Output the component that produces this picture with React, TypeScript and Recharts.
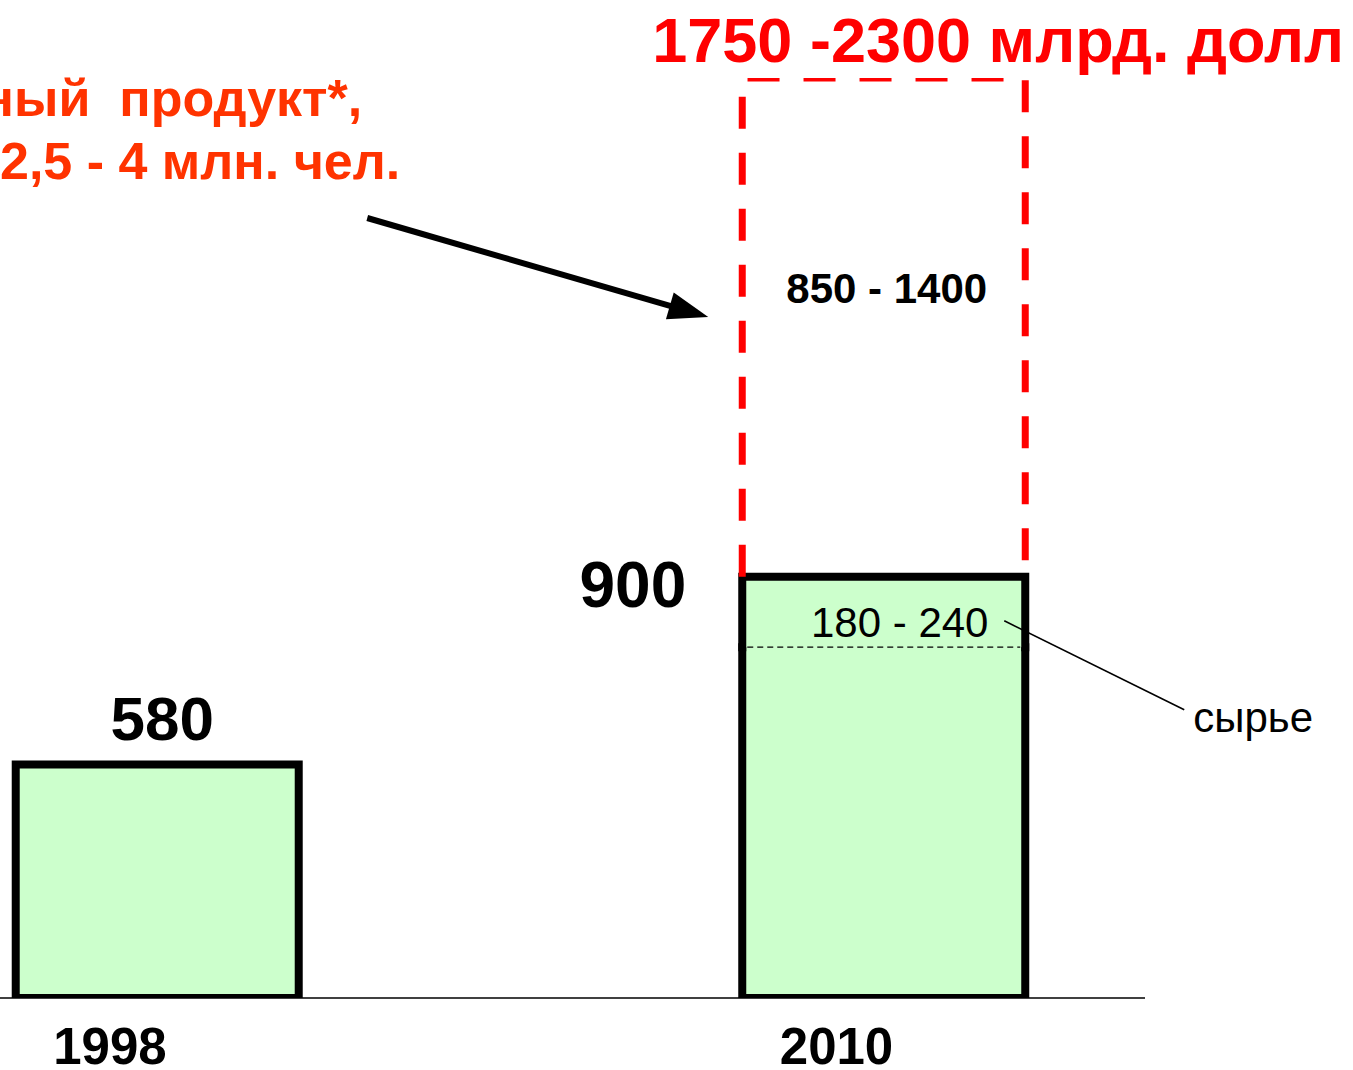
import React from 'react';
import { ComposedChart, Bar, XAxis, YAxis, LabelList } from 'recharts';

const years = [1998, 2010];
// the 2010 bar is split by the thin dashed line: lower part + raw-material part
const lowerPart = [580, 780];
const rawPart = [0, 120];
const forecastPart = [0, 850];
const totalLabels = ['580', '900'];
const rawLabels = ['', '180 - 240'];
const forecastLabels = ['', '850 - 1400'];
const forecastTotals = ['', '1750 -2300 млрд. долл'];
const rawName = 'сырье';
const noteLines = ['ный  продукт*,', '2,5 - 4 млн. чел.'];

const data = years.map((year, i) => ({
  year,
  lower: lowerPart[i],
  raw: rawPart[i],
  forecast: forecastPart[i],
}));

const FONT = '"Liberation Sans", Arial, sans-serif';
const GREEN = '#ccffcc';
const RED = '#ff0000';
const ORANGE = '#ff3300';

function LowerShape(props: any) {
  const { x, y, width, height, payload } = props;
  const b = y + height;
  const d = payload.raw
    ? `M${x},${y} L${x},${b} L${x + width},${b} L${x + width},${y}`
    : `M${x},${y} L${x},${b} L${x + width},${b} L${x + width},${y} Z`;
  return (
    <g>
      <rect x={x} y={y} width={width} height={height} fill={GREEN} />
      <path d={d} fill="none" stroke="#000" strokeWidth={8} strokeLinecap="square" />
    </g>
  );
}

function RawShape(props: any) {
  const { x, y, width, height } = props;
  if (!height || height <= 0) return null;
  const b = y + height;
  return (
    <g>
      <rect x={x} y={y} width={width} height={height} fill={GREEN} />
      <line x1={x + 5} y1={b} x2={x + width - 5} y2={b} stroke="#000" strokeWidth={1.3} strokeDasharray="6 4" />
      <path d={`M${x},${b} L${x},${y} L${x + width},${y} L${x + width},${b}`} fill="none" stroke="#000" strokeWidth={8} strokeLinecap="square" />
    </g>
  );
}

function ForecastShape(props: any) {
  const { x, y, width, height } = props;
  if (!height || height <= 0) return null;
  const b = y + height;
  return (
    <path
      d={`M${x},${b} L${x},${y} L${x + width},${y} L${x + width},${b}`}
      fill="none"
      stroke={RED}
      strokeWidth={7}
      strokeDasharray="32 24"
    />
  );
}

function vbOf(props: any) {
  return props.viewBox ?? props;
}

function LowerLabel(props: any) {
  const { index } = props;
  if (rawPart[index]) return null;
  const { x, y, width } = vbOf(props);
  return (
    <text x={x + width / 2 + 5} y={y - 24} textAnchor="middle" fontFamily={FONT} fontWeight="bold" fontSize={62} fill="#000">
      {totalLabels[index]}
    </text>
  );
}

function RawLabel(props: any) {
  const { index } = props;
  if (!rawPart[index]) return null;
  const { x, y, width } = vbOf(props);
  const r = x + width;
  return (
    <g fontFamily={FONT}>
      <text x={x - 56} y={y + 30} textAnchor="end" fontWeight="bold" fontSize={64} fill="#000">
        {totalLabels[index]}
      </text>
      <text x={x + width / 2 + 16} y={y + 60} textAnchor="middle" fontSize={42} fill="#000">
        {rawLabels[index]}
      </text>
      <line x1={r - 21} y1={y + 44} x2={r + 159} y2={y + 133} stroke="#000" strokeWidth={1.6} />
      <text x={r + 168} y={y + 155} fontSize={42} fill="#000">
        {rawName}
      </text>
    </g>
  );
}

function ForecastLabel(props: any) {
  const { index } = props;
  if (!forecastPart[index]) return null;
  const { x, y, width } = vbOf(props);
  const tipX = x - 34;
  const tipY = y + 239;
  const sx = x - 375;
  const sy = y + 140;
  const len = Math.hypot(tipX - sx, tipY - sy);
  const ux = (tipX - sx) / len;
  const uy = (tipY - sy) / len;
  const hl = 40;
  const hw = 14;
  const bx = tipX - ux * hl;
  const by = tipY - uy * hl;
  return (
    <g fontFamily={FONT}>
      <text x={x - 90} y={y - 16} fontWeight="bold" fontSize={63} fill={RED}>
        {forecastTotals[index]}
      </text>
      <text x={x + width / 2 + 3} y={y + 225} textAnchor="middle" fontWeight="bold" fontSize={42} fill="#000">
        {forecastLabels[index]}
      </text>
      <line x1={sx} y1={sy} x2={bx + ux * 2} y2={by + uy * 2} stroke="#000" strokeWidth={6} />
      <polygon
        points={`${tipX},${tipY} ${bx - uy * hw},${by + ux * hw} ${bx + uy * hw},${by - ux * hw}`}
        fill="#000"
      />
      <text x={x - 380} y={y + 38} textAnchor="end" fontWeight="bold" fontSize={52} fill={ORANGE} style={{ whiteSpace: 'pre' }}>
        {noteLines[0]}
      </text>
      <text x={x - 342} y={y + 101} textAnchor="end" fontWeight="bold" fontSize={52} fill={ORANGE}>
        {noteLines[1]}
      </text>
    </g>
  );
}

function YearTick(props: any) {
  const { x, y, payload } = props;
  return (
    <text x={x - 47} y={y + 66} textAnchor="middle" fontFamily={FONT} fontWeight="bold" fontSize={51} fill="#000">
      {payload.value}
    </text>
  );
}

export default function App() {
  return (
    <div style={{ position: 'absolute', left: 0, top: 0, background: '#fff' }}>
      <ComposedChart width={1353} height={1070} data={data} margin={{ top: 78, right: 208, bottom: 0, left: 0 }}>
        <XAxis
          dataKey="year"
          type="number"
          domain={[1995.407, 2014.319]}
          ticks={years}
          allowDataOverflow
          height={72}
          stroke="#000"
          strokeWidth={1.5}
          tickLine={false}
          tickSize={0}
          tickMargin={0}
          tick={<YearTick />}
        />
        <YAxis hide type="number" domain={[182, 1750]} allowDataOverflow />
        <Bar dataKey="lower" stackId="a" barSize={283} shape={<LowerShape />} isAnimationActive={false}>
          <LabelList dataKey="lower" content={<LowerLabel />} />
        </Bar>
        <Bar dataKey="raw" stackId="a" barSize={283} shape={<RawShape />} isAnimationActive={false}>
          <LabelList dataKey="raw" content={<RawLabel />} />
        </Bar>
        <Bar dataKey="forecast" stackId="a" barSize={283} shape={<ForecastShape />} isAnimationActive={false}>
          <LabelList dataKey="forecast" content={<ForecastLabel />} />
        </Bar>
      </ComposedChart>
    </div>
  );
}
